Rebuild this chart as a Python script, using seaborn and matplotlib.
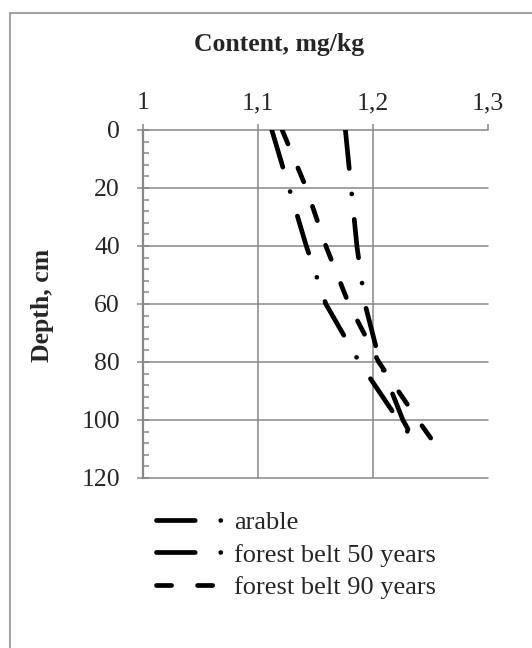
import matplotlib
matplotlib.use('Agg')
import matplotlib.pyplot as plt
import matplotlib.patches as mpatches
import seaborn as sns
import pandas as pd

# 数据
depth_arable = [0, 20, 40, 60, 80, 100, 105]
content_arable = [1.112, 1.127, 1.142, 1.159, 1.188, 1.222, 1.232]

depth_belt50 = [0, 20, 40, 60, 80, 100, 105]
content_belt50 = [1.176, 1.181, 1.186, 1.193, 1.206, 1.226, 1.233]

depth_belt90 = [0, 20, 40, 60, 80, 100, 110]
content_belt90 = [1.121, 1.142, 1.159, 1.179, 1.205, 1.239, 1.257]

series_names = ['arable', 'forest belt 50 years', 'forest belt 90 years']
x_ticks = [1.0, 1.1, 1.2, 1.3]
x_tick_labels = ['1', '1,1', '1,2', '1,3']
y_ticks = [0, 20, 40, 60, 80, 100, 120]

sns.set_style('white')
plt.rcParams['font.family'] = ['Liberation Serif', 'DejaVu Serif']

grey = '#878787'
fig = plt.figure(figsize=(5.32, 6.48), dpi=100)
ax = fig.add_axes([143 / 532, 1 - 478 / 648, 345 / 532, 348 / 648])

# 长表
frames = []
for name, d, c in [(series_names[0], depth_arable, content_arable),
                   (series_names[1], depth_belt50, content_belt50),
                   (series_names[2], depth_belt90, content_belt90)]:
    frames.append(pd.DataFrame({'Depth': d, 'Content': c, 'Soil': name}))
data = pd.concat(frames, ignore_index=True)

dash_dot = (0, (8.2, 5.4, 0.01, 5.4))
dashed = (0, (3.2, 5.5))
styles = [dash_dot, dash_dot, dashed]

for name, ls in zip(series_names, styles):
    sub = data[data['Soil'] == name]
    sns.lineplot(data=sub, x='Content', y='Depth', sort=False, estimator=None,
                 color='black', linewidth=3.4, label=name, ax=ax)
    line = ax.lines[-1]
    line.set_linestyle(ls)
    line.set_dash_capstyle('round')
    line.set_solid_capstyle('round')

# 坐标轴
ax.set_xlim(x_ticks[0], x_ticks[-1])
ax.set_ylim(y_ticks[-1], y_ticks[0])
ax.xaxis.tick_top()
ax.set_xticks(x_ticks)
ax.set_xticklabels(x_tick_labels)
ax.set_yticks(y_ticks)
ax.set_yticks(range(0, 121, 4), minor=True)
ax.set_xlabel('')
ax.set_ylabel('')

ax.tick_params(axis='x', which='major', direction='out', length=4.5, width=1.1,
               color=grey, labelsize=18.5, pad=7, top=True, bottom=False)
ax.tick_params(axis='y', which='major', direction='inout', length=9, width=1.1,
               color=grey, labelsize=18.5, pad=12, left=True)
ax.tick_params(axis='y', which='minor', direction='in', length=4.3, width=1.1,
               color=grey, left=True)

for s in ['right', 'bottom', 'top']:
    ax.spines[s].set_visible(False)
ax.spines['left'].set_color(grey)
ax.spines['left'].set_linewidth(1.6)

# 网格线
for v in y_ticks:
    ax.axhline(v, color=grey, lw=1.1, zorder=0, clip_on=False)
for v in x_ticks[1:-1]:
    ax.axvline(v, color=grey, lw=1.1, zorder=0)

# 标题
fig.text(279 / 532, 1 - 44 / 648, 'Content, mg/kg', ha='center', va='center',
         fontsize=18.5, fontweight='bold')
fig.text(43 / 532, 1 - 305 / 648, 'Depth, cm', ha='center', va='center',
         rotation=90, fontsize=18.5, fontweight='bold')

# 图例
handles, labels = ax.get_legend_handles_labels()
ax.legend(handles, labels, loc='upper left', bbox_to_anchor=(156 / 532, 1 - 511 / 648),
          bbox_transform=fig.transFigure, frameon=False, fontsize=19,
          handlelength=2.65, handletextpad=0.3, labelspacing=0.33,
          borderpad=0, borderaxespad=0)

# 外框
fig.patches.append(mpatches.Rectangle((10 / 532, -0.1), 1.2, 1.1 - 13 / 648,
                                      transform=fig.transFigure, fill=False,
                                      edgecolor=grey, lw=1.1))

plt.savefig('out.png', dpi=100)
plt.close()
